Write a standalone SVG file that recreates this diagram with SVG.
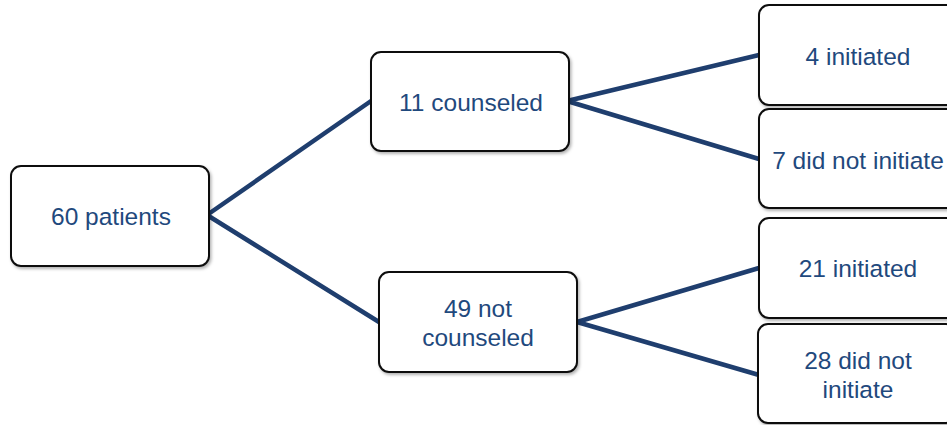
<svg xmlns="http://www.w3.org/2000/svg" width="947" height="425" viewBox="0 0 947 425">
<defs>
<filter id="sh" x="-10%" y="-10%" width="130%" height="130%">
<feDropShadow dx="1.5" dy="2" stdDeviation="1.5" flood-color="#000" flood-opacity="0.3"/>
</filter>
<style>
.box{fill:#fff;stroke:#111;stroke-width:2;filter:url(#sh)}
.t{font-family:"Liberation Sans",Arial,sans-serif;font-size:24.5px;fill:#1F497D;text-anchor:middle;dominant-baseline:central}
.c{stroke:#1F3E6E;stroke-width:4.5;fill:none;stroke-linecap:round}
</style>
</defs>
<rect width="947" height="425" fill="#fff"/>
<g id="connectors">
<line class="c" x1="207" y1="215" x2="371" y2="101"/>
<line class="c" x1="207" y1="215" x2="379" y2="322"/>
<line class="c" x1="567" y1="101" x2="759" y2="55"/>
<line class="c" x1="567" y1="101" x2="759" y2="159"/>
<line class="c" x1="577" y1="322" x2="759" y2="268"/>
<line class="c" x1="577" y1="322" x2="759" y2="375"/>
</g>
<g id="n60">
<rect class="box" x="11" y="166" width="198" height="100" rx="10"/>
<text class="t" x="111" y="216">60 patients</text>
</g>
<g id="n11">
<rect class="box" x="371" y="52" width="198" height="99" rx="10"/>
<text class="t" x="471" y="102">11 counseled</text>
</g>
<g id="n49">
<rect class="box" x="379" y="272" width="198" height="100" rx="10"/>
<text class="t" x="478" y="308">49 not</text>
<text class="t" x="478" y="337">counseled</text>
</g>
<g id="n4">
<rect class="box" x="759" y="5" width="198" height="100" rx="10"/>
<text class="t" x="858" y="56">4 initiated</text>
</g>
<g id="n7">
<rect class="box" x="759" y="109" width="198" height="99" rx="10"/>
<text class="t" x="858" y="160">7 did not initiate</text>
</g>
<g id="n21">
<rect class="box" x="759" y="218" width="198" height="100" rx="10"/>
<text class="t" x="858" y="268">21 initiated</text>
</g>
<g id="n28">
<rect class="box" x="758" y="324" width="198" height="99" rx="10"/>
<text class="t" x="858" y="360">28 did not</text>
<text class="t" x="858" y="389">initiate</text>
</g>
</svg>
